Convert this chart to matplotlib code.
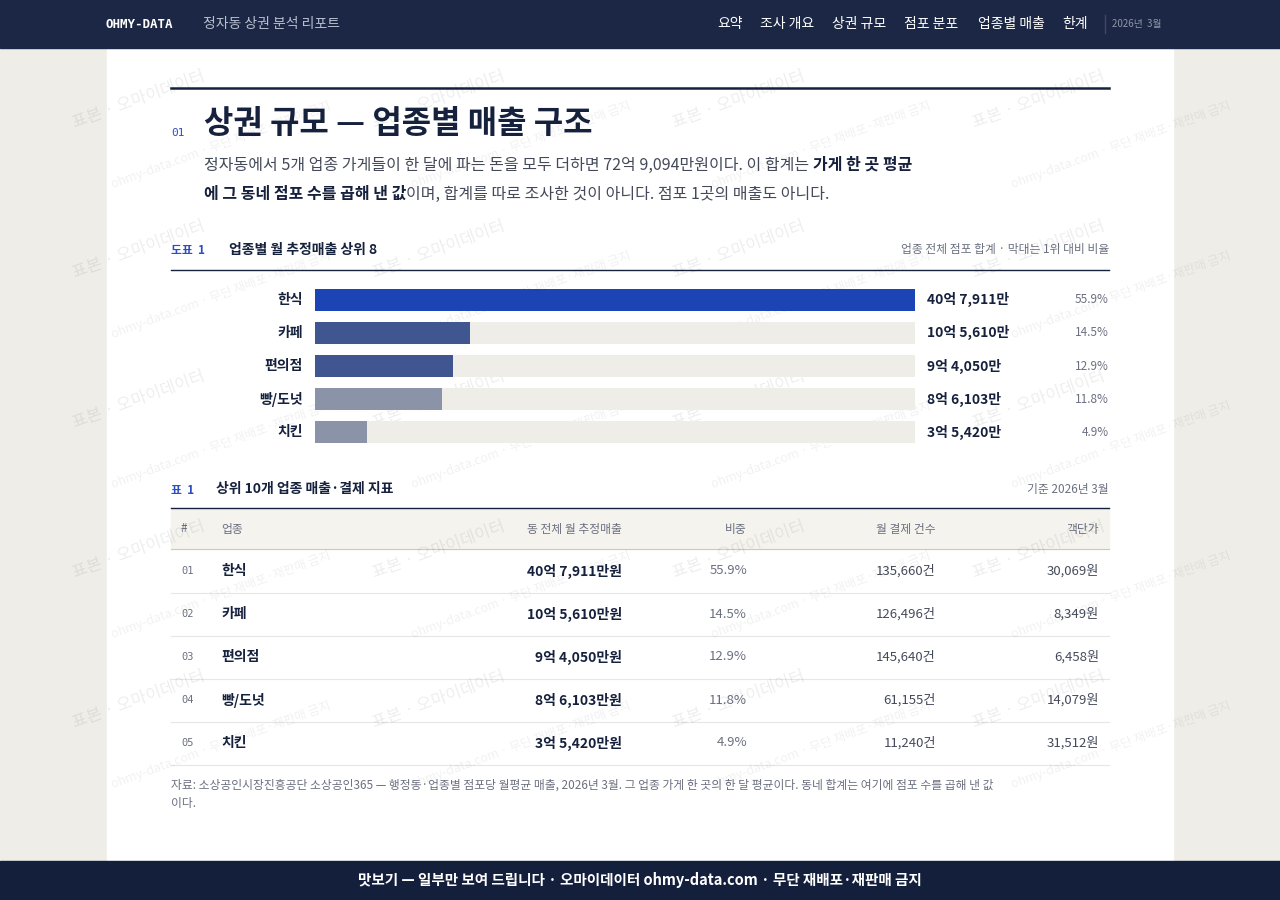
import matplotlib
matplotlib.use("Agg")
import matplotlib.pyplot as plt
from matplotlib.patches import Rectangle

plt.rcParams['font.family'] = ['Noto Sans CJK KR', 'DejaVu Sans']

# data
categories = ["한식", "카페", "편의점", "빵/도넛", "치킨"]
sales_manwon = [407911, 105610, 94050, 86103, 35420]
sales_labels = ["40억 7,911만", "10억 5,610만", "9억 4,050만", "8억 6,103만", "3억 5,420만"]
shares = ["55.9%", "14.5%", "12.9%", "11.8%", "4.9%"]
tx_counts = ["135,660건", "126,496건", "145,640건", "61,155건", "11,240건"]
unit_prices = ["30,069원", "8,349원", "6,458원", "14,079원", "31,512원"]
nav_items = ["요약", "조사 개요", "상권 규모", "점포 분포", "업종별 매출", "한계"]
nav_x = [717, 760, 832, 904, 978, 1062]

NAVY = "#1b2744"
INK = "#16213d"
GREY = "#6b7080"
bar_colors = ["#1c44b4", "#3f5690", "#3f5690", "#8a93a8", "#8a93a8"]

fig = plt.figure(figsize=(12.8, 9), dpi=100)
ax = fig.add_axes([0, 0, 1, 1])
ax.set_xlim(0, 1280)
ax.set_ylim(900, 0)
ax.axis("off")
renderer = fig.canvas.get_renderer()


def inline(x, y, parts, size):
    # draw text runs one after another on a line
    for txt, bold in parts:
        t = ax.text(x, y, txt, fontsize=size, va="center",
                    fontweight="bold" if bold else "normal",
                    color=INK if bold else "#444a5a")
        bb = t.get_window_extent(renderer)
        x += bb.width


ax.add_patch(Rectangle((0, 0), 1280, 900, color="#eeede8", zorder=0))
ax.add_patch(Rectangle((107, 0), 1066, 900, color="white", zorder=0))
ax.add_patch(Rectangle((0, 0), 1280, 48, color=NAVY, zorder=6))
ax.add_patch(Rectangle((0, 861), 1280, 39, color="#141f3b", zorder=6))

# header
ax.text(106, 24, "OHMY-DATA", family="DejaVu Sans Mono", fontweight="bold", fontsize=9, color="white", va="center", zorder=7)
ax.text(203, 24, "정자동 상권 분석 리포트", fontsize=10, color="#b8bfd0", va="center", zorder=7)
for name, x in zip(nav_items, nav_x):
    ax.text(x, 24, name, fontsize=10, color="white", va="center", ha="left", zorder=7)
ax.plot([1105, 1105], [15, 33], color="#3d4866", lw=1, zorder=7)
ax.text(1112, 24, "2026년  3월", fontsize=7, color="#8f97ad", va="center", zorder=7)

# title block
ax.plot([171, 1109], [88, 88], color=INK, lw=1.8)
ax.text(171, 133, "01", family="DejaVu Sans Mono", fontsize=8, color="#2b4fc0", va="center")
ax.text(204, 124, "상권 규모 — 업종별 매출 구조", fontsize=23, fontweight="bold", color=INK, va="center")
inline(204, 165, [("정자동에서 5개 업종 가게들이 한 달에 파는 돈을 모두 더하면 72억 9,094만원이다. 이 합계는 ", False),
                  ("가게 한 곳 평균", True)], 11.5)
inline(204, 194, [("에 그 동네 점포 수를 곱해 낸 값", True),
                  ("이며, 합계를 따로 조사한 것이 아니다. 점포 1곳의 매출도 아니다.", False)], 11.5)

# figure caption
ax.text(171, 251, "도표  1", fontsize=8.5, color="#2b4fc0", va="center", fontweight="bold")
ax.text(229, 250, "업종별 월 추정매출 상위 8", fontsize=10, fontweight="bold", color=INK, va="center")
ax.text(1109, 250, "업종 전체 점포 합계 · 막대는 1위 대비 비율", fontsize=8.5, color=GREY, va="center", ha="right")
ax.plot([171, 1109], [270, 270], color=INK, lw=1)

# bar chart
bx = fig.add_axes([315 / 1280, 1 - 449 / 900, 600 / 1280, 166 / 900])
ypos = list(range(len(categories)))
top = max(sales_manwon)
bx.barh(ypos, [top] * len(ypos), height=0.66, color="#eeede8", zorder=1)
bx.barh(ypos, sales_manwon, height=0.66, color=bar_colors, zorder=2)
bx.set_xlim(0, top)
bx.set_ylim(len(ypos) - 0.5, -0.5)
bx.axis("off")
for i, cat in enumerate(categories):
    bx.text(-12 / 600 * top, i, cat, ha="right", va="center", fontsize=10, fontweight="bold", color=INK)
    bx.text(top * 1.02, i, sales_labels[i], ha="left", va="center", fontsize=10, fontweight="bold", color=INK)
    bx.text(top * (794 / 600), i, shares[i], ha="right", va="center", fontsize=8.5, color=GREY)

# table caption
ax.text(171, 490, "표  1", fontsize=8.5, color="#2b4fc0", va="center", fontweight="bold")
ax.text(216, 489, "상위 10개 업종 매출·결제 지표", fontsize=10, fontweight="bold", color=INK, va="center")
ax.text(1109, 489, "기준 2026년 3월", fontsize=8.5, color=GREY, va="center", ha="right")
ax.plot([171, 1109], [508, 508], color=INK, lw=1)
ax.add_patch(Rectangle((171, 509), 938, 40, color="#f4f3ee", zorder=1))
ax.plot([171, 1109], [549, 549], color="#c9c9c9", lw=0.8)
hy = 529
ax.text(181, hy, "#", fontsize=8.5, color=GREY, va="center")
ax.text(221, hy, "업종", fontsize=8.5, color=GREY, va="center")
ax.text(622, hy, "동 전체 월 추정매출", fontsize=8.5, color=GREY, va="center", ha="right")
ax.text(747, hy, "비중", fontsize=8.5, color=GREY, va="center", ha="right")
ax.text(936, hy, "월 결제 건수", fontsize=8.5, color=GREY, va="center", ha="right")
ax.text(1099, hy, "객단가", fontsize=8.5, color=GREY, va="center", ha="right")
for i, cat in enumerate(categories):
    y = 571 + i * 43
    ax.text(181, y, f"{i + 1:02d}", family="DejaVu Sans Mono", fontsize=7.5, color=GREY, va="center")
    ax.text(221, y, cat, fontsize=10, fontweight="bold", color=INK, va="center")
    ax.text(622, y, sales_labels[i] + "원", fontsize=10, fontweight="bold", color=INK, va="center", ha="right")
    ax.text(747, y, shares[i], fontsize=9.5, color=GREY, va="center", ha="right")
    ax.text(936, y, tx_counts[i], fontsize=9.5, color="#444a5a", va="center", ha="right")
    ax.text(1099, y, unit_prices[i], fontsize=9.5, color="#444a5a", va="center", ha="right")
    ax.plot([171, 1109], [y + 21.5, y + 21.5], color="#e6e6e6", lw=0.8)

ax.text(171, 785, "자료: 소상공인시장진흥공단 소상공인365 — 행정동·업종별 점포당 월평균 매출, 2026년 3월. 그 업종 가게 한 곳의 한 달 평균이다. 동네 합계는 여기에 점포 수를 곱해 낸 값",
        fontsize=8.5, color=GREY, va="center")
ax.text(171, 803, "이다.", fontsize=8.5, color=GREY, va="center")

# watermarks
for wy in range(100, 840, 150):
    for wx in range(70, 1200, 300):
        ax.text(wx, wy, "표본 · 오마이데이터", fontsize=12, color="#000000", alpha=0.07,
                rotation=20, va="center", zorder=5)
        ax.text(wx + 40, wy + 45, "ohmy-data.com · 무단 재배포·재판매 금지", fontsize=9, color="#000000", alpha=0.06,
                rotation=20, va="center", zorder=5)

ax.text(640, 880, "맛보기 — 일부만 보여 드립니다 · 오마이데이터 ohmy-data.com · 무단 재배포·재판매 금지",
        fontsize=10.5, fontweight="bold", color="white", va="center", ha="center", zorder=7)

fig.savefig("out.png", dpi=100)
